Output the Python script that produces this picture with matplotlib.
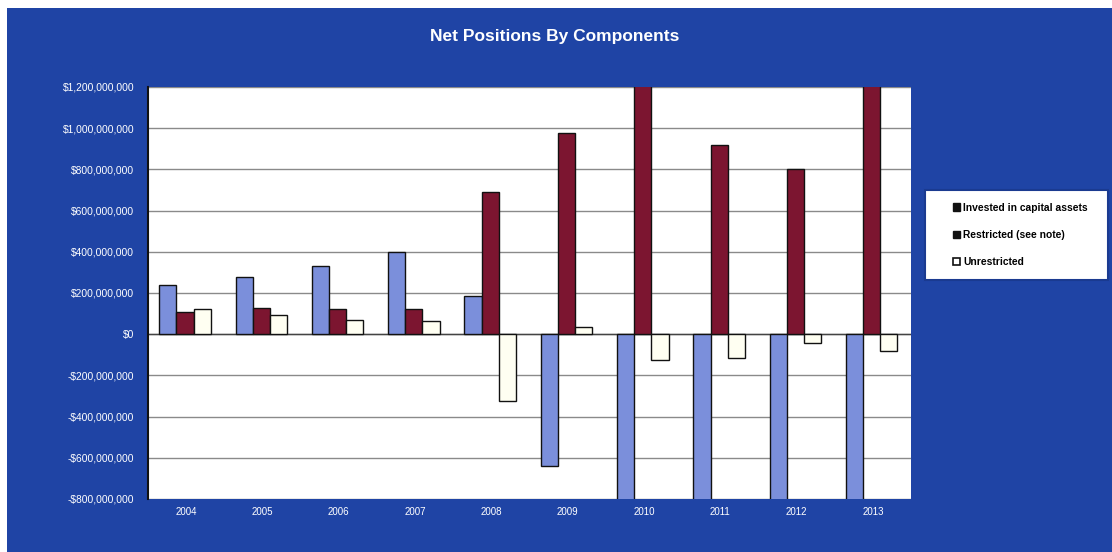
import matplotlib
matplotlib.use("Agg")
import matplotlib.pyplot as plt
import numpy as np
from matplotlib.patches import Patch, Rectangle
from matplotlib.ticker import FuncFormatter

plt.rcParams["font.family"] = ["Liberation Sans", "DejaVu Sans"]

years = ["2004", "2005", "2006", "2007", "2008", "2009", "2010", "2011", "2012", "2013"]
invested = [239e6, 280e6, 332e6, 397e6, 185e6, -639e6, -1030e6, -960e6, -900e6, -1100e6]
restricted = [109e6, 128e6, 124e6, 120e6, 689e6, 976e6, 1310e6, 920e6, 800e6, 1280e6]
unrestricted = [124e6, 93e6, 68e6, 63e6, -322e6, 33e6, -124e6, -114e6, -42e6, -83e6]
series_names = ["Invested in capital assets", "Restricted (see note)", "Unrestricted"]

BG = "#1f44a5"
colors = ["#7b8fdb", "#7c1530", "#fffff2"]

fig = plt.figure(figsize=(11.12, 5.52), dpi=100, facecolor=BG)
# thin light margin at the top and left of the panel
fig.patches.append(Rectangle((0, 1 - 8 / 552), 1, 8 / 552, transform=fig.transFigure,
                             facecolor="white", edgecolor="none", zorder=0))
fig.patches.append(Rectangle((0, 0), 7 / 1112, 1, transform=fig.transFigure,
                             facecolor="white", edgecolor="none", zorder=0))
# legend panel
fig.patches.append(Rectangle((925 / 1112, 1 - 280 / 552), 183 / 1112, 90 / 552,
                             transform=fig.transFigure, facecolor="white",
                             edgecolor="#1a3a90", linewidth=1.5, zorder=1))

ax = fig.add_axes([148 / 1112, 1 - 499 / 552, (911 - 148) / 1112, (499 - 87) / 552])
ax.set_facecolor("white")

x = np.arange(len(years))
w = 0.225
for i, (vals, c) in enumerate(zip([invested, restricted, unrestricted], colors)):
    ax.bar(x - 0.015 + (i - 1) * w, vals, width=w, color=c, edgecolor="#111111",
           linewidth=1.0, zorder=3)

ax.set_ylim(-800e6, 1200e6)
ax.set_xlim(-0.5, len(years) - 0.5)
ax.set_yticks(np.arange(-800e6, 1200e6 + 1, 200e6))


def money(v, _):
    v = int(round(v))
    if v == 0:
        return "$0"
    s = f"${abs(v):,}"
    return "-" + s if v < 0 else s


ax.yaxis.set_major_formatter(FuncFormatter(money))
ax.set_xticks(x)
ax.set_xticklabels(years)
ax.tick_params(axis="y", colors="white", labelsize=7.4, length=0, pad=10)
ax.tick_params(axis="x", colors="white", labelsize=7, length=0, pad=6)
for lab in ax.get_xticklabels() + ax.get_yticklabels():
    lab.set_color("white")

ax.grid(axis="y", color="#8a8a8a", linewidth=1.0, zorder=0)
ax.axhline(0, color="#444444", linewidth=1.0, zorder=2)
for s in ["top", "right", "bottom"]:
    ax.spines[s].set_visible(False)
ax.spines["left"].set_color("#111111")
ax.spines["left"].set_linewidth(1.5)

fig.text(555 / 1112, 1 - 37 / 552, "Net Positions By Components", color="white",
         fontsize=12.5, fontweight="bold", ha="center", va="center")

handles = [Patch(facecolor="#111111", edgecolor="#111111"),
           Patch(facecolor="#111111", edgecolor="#111111"),
           Patch(facecolor="white", edgecolor="#111111", linewidth=1.2)]
leg = fig.legend(handles, series_names, loc="center left",
                 bbox_to_anchor=(953 / 1112, 1 - 235 / 552),
                 prop={"size": 7.4, "weight": "bold"}, frameon=False,
                 labelspacing=1.7, handlelength=0.7, handleheight=0.7,
                 handletextpad=0.3, borderpad=0, borderaxespad=0)
leg.set_zorder(2)

fig.savefig("out.png", dpi=100, facecolor=BG)
